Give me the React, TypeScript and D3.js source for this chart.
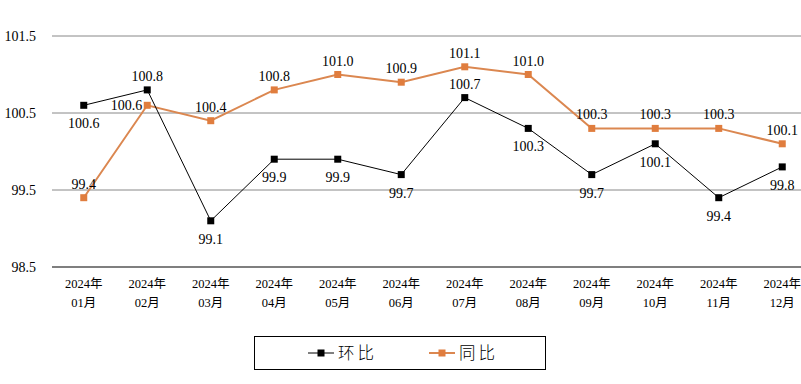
import { useEffect, useRef } from 'react';
import * as d3 from 'd3';

const months = ['01月', '02月', '03月', '04月', '05月', '06月', '07月', '08月', '09月', '10月', '11月', '12月'];
const yearLabel = '2024年';
const huanbi = [100.6, 100.8, 99.1, 99.9, 99.9, 99.7, 100.7, 100.3, 99.7, 100.1, 99.4, 99.8];
const tongbi = [99.4, 100.6, 100.4, 100.8, 101.0, 100.9, 101.1, 101.0, 100.3, 100.3, 100.3, 100.1];
// label placement per point: 'below' | 'above' | 'left'
const huanbiPos = ['below', 'above', 'below', 'below', 'below', 'below', 'above', 'below', 'below', 'below', 'below', 'below'];
const tongbiPos = ['above', 'left', 'above', 'above', 'above', 'above', 'above', 'above', 'above', 'above', 'above', 'above'];
const yTicks = [98.5, 99.5, 100.5, 101.5];

const App = () => {
  const ref = useRef(null);
  const width = 801;
  const height = 384;
  const marginLeft = 52;
  const serif = '"Liberation Serif", "Times New Roman", serif';
  const cjk = '"Liberation Serif", "Noto Sans CJK SC", serif';

  useEffect(() => {
    const svg = d3.select(ref.current);
    svg.selectAll('*').remove();

    const x = d3.scaleBand()
      .domain(months)
      .range([marginLeft, marginLeft + 12 * 63.5]);

    const y = d3.scaleLinear()
      .domain([98.5, 101.5])
      .range([267, 36]);

    const cx = (i) => x(months[i]) + x.bandwidth() / 2;

    // gridlines + y labels
    svg.append('g')
      .selectAll('line')
      .data(yTicks)
      .join('line')
      .attr('x1', marginLeft)
      .attr('x2', width)
      .attr('y1', d => y(d))
      .attr('y2', d => y(d))
      .attr('stroke', d => d === 98.5 ? '#000' : '#888')
      .attr('stroke-width', d => d === 98.5 ? 1.2 : 1);

    svg.append('g')
      .selectAll('text')
      .data(yTicks)
      .join('text')
      .attr('x', 36)
      .attr('y', d => y(d) + 5)
      .attr('text-anchor', 'end')
      .attr('font-family', serif)
      .attr('font-size', 14)
      .text(d => d.toFixed(1));

    // x labels
    const xl = svg.append('g').attr('font-family', cjk).attr('font-size', 12.5).attr('text-anchor', 'middle');
    months.forEach((m, i) => {
      xl.append('text').attr('x', cx(i)).attr('y', 288).text(yearLabel);
      xl.append('text').attr('x', cx(i)).attr('y', 307).text(m);
    });

    const line = d3.line().x((d, i) => cx(i)).y(d => y(d));

    const drawSeries = (data, color, lw, pos) => {
      svg.append('path')
        .datum(data)
        .attr('d', line)
        .attr('fill', 'none')
        .attr('stroke', color.line)
        .attr('stroke-width', lw);
      svg.append('g')
        .selectAll('rect')
        .data(data)
        .join('rect')
        .attr('x', (d, i) => cx(i) - 3.5)
        .attr('y', d => y(d) - 3.5)
        .attr('width', 7)
        .attr('height', 7)
        .attr('fill', color.marker);
      svg.append('g')
        .selectAll('text')
        .data(data)
        .join('text')
        .attr('x', (d, i) => pos[i] === 'left' ? cx(i) - 5 : cx(i))
        .attr('y', (d, i) => pos[i] === 'below' ? y(d) + 23 : pos[i] === 'left' ? y(d) + 5 : y(d) - 9)
        .attr('text-anchor', (d, i) => pos[i] === 'left' ? 'end' : 'middle')
        .attr('font-family', serif)
        .attr('font-size', 14)
        .text(d => d.toFixed(1));
    };

    drawSeries(tongbi, { line: '#DB8750', marker: '#E07D3E' }, 2, tongbiPos);
    drawSeries(huanbi, { line: '#000', marker: '#000' }, 1, huanbiPos);

    // legend
    const lg = svg.append('g');
    lg.append('rect')
      .attr('x', 254.5).attr('y', 336.5)
      .attr('width', 291).attr('height', 33)
      .attr('fill', 'none').attr('stroke', '#000');
    const items = [
      { label: '环比', line: '#000', marker: '#000', lw: 1, x: 308 },
      { label: '同比', line: '#DB8750', marker: '#E07D3E', lw: 2, x: 429 },
    ];
    items.forEach(it => {
      lg.append('line')
        .attr('x1', it.x).attr('x2', it.x + 26)
        .attr('y1', 353).attr('y2', 353)
        .attr('stroke', it.line).attr('stroke-width', it.lw);
      lg.append('rect')
        .attr('x', it.x + 9.5).attr('y', 349.5)
        .attr('width', 7).attr('height', 7)
        .attr('fill', it.marker);
      lg.append('text')
        .attr('x', it.x + 30).attr('y', 359)
        .attr('font-family', '"Noto Sans CJK SC", sans-serif')
        .attr('font-weight', 300)
        .attr('font-size', 16.5)
        .attr('letter-spacing', 3)
        .text(it.label);
    });
  }, []);

  return (
    <svg
      ref={ref}
      width={width}
      height={height}
      viewBox={`0 0 ${width} ${height}`}
      style={{ position: 'absolute', left: 0, top: 0, background: '#fff' }}
    />
  );
};

export default App;
